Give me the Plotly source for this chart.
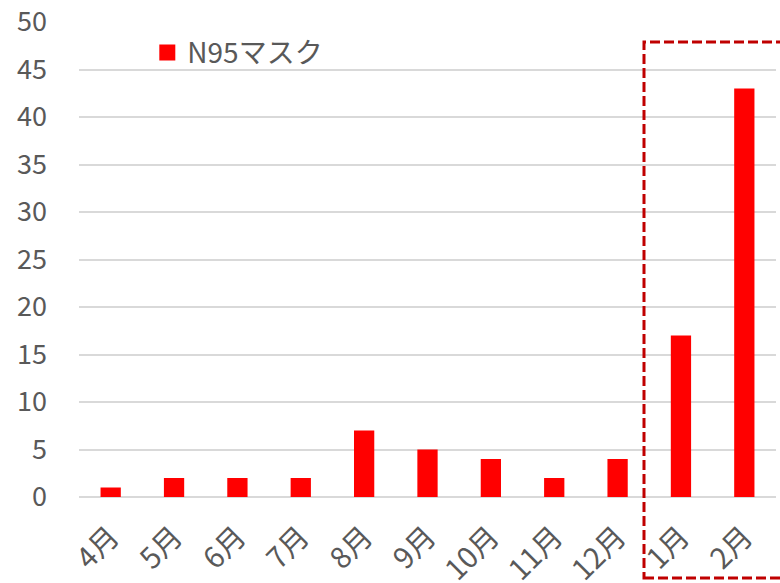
import plotly.graph_objects as go

categories = ["4月", "5月", "6月", "7月", "8月", "9月", "10月", "11月", "12月", "1月", "2月"]
values = [1, 2, 2, 2, 7, 5, 4, 2, 4, 17, 43]
series_name = "N95マスク"
y_ticks = [0, 5, 10, 15, 20, 25, 30, 35, 40, 45, 50]

W, H = 780, 583
ml, mr, mt, mb = 79, 4, 22, 86
RED = "#FF0000"

fig = go.Figure()
fig.add_trace(go.Bar(
    x=categories, y=values, name=series_name,
    marker=dict(color=RED, line=dict(width=0)),
    showlegend=False,
))
# legend-only entry with a larger square swatch
fig.add_trace(go.Scatter(
    x=[None], y=[None], mode="markers", name=series_name,
    marker=dict(symbol="square", size=16, color=RED),
    showlegend=True,
))

font_family = "Noto Sans CJK JP, Liberation Sans, sans-serif"

fig.update_layout(
    width=W, height=H,
    margin=dict(l=ml, r=mr, t=mt, b=mb, autoexpand=False),
    paper_bgcolor="white", plot_bgcolor="white",
    bargap=0.68,
    font=dict(family=font_family, color="#595959", size=26),
    showlegend=True,
    legend=dict(x=0.098, y=0.988, xanchor="left", yanchor="top",
                font=dict(size=28, color="#595959"), bgcolor="rgba(0,0,0,0)",
                itemwidth=30, itemsizing="trace"),
    xaxis=dict(tickangle=-45, showgrid=False, showline=False, ticks="", automargin=False,
               tickfont=dict(size=29, color="#595959"), ticklabelstandoff=16),
    yaxis=dict(range=[0, 50], tickvals=y_ticks, showgrid=True, gridcolor="#D9D9D9",
               gridwidth=1.5, zeroline=True, zerolinecolor="#D9D9D9", zerolinewidth=1.5,
               showline=False, ticks="", automargin=False,
               tickfont=dict(size=27, color="#595959"), ticklabelstandoff=31),
)

# dashed highlight box (paper coordinates)
pw = W - ml - mr
ph = H - mt - mb
x0 = (644 - ml) / pw
x1 = (790 - ml) / pw
y0 = (H - mb - 578) / ph
y1 = (H - mb - 42) / ph
fig.add_shape(type="rect", xref="paper", yref="paper", x0=x0, x1=x1, y0=y0, y1=y1,
              line=dict(color="#C00000", width=3, dash="10px,4px"), fillcolor="rgba(0,0,0,0)")

fig.write_html("out.html", config={"displayModeBar": False},
               post_script="document.body.style.margin='0';")
